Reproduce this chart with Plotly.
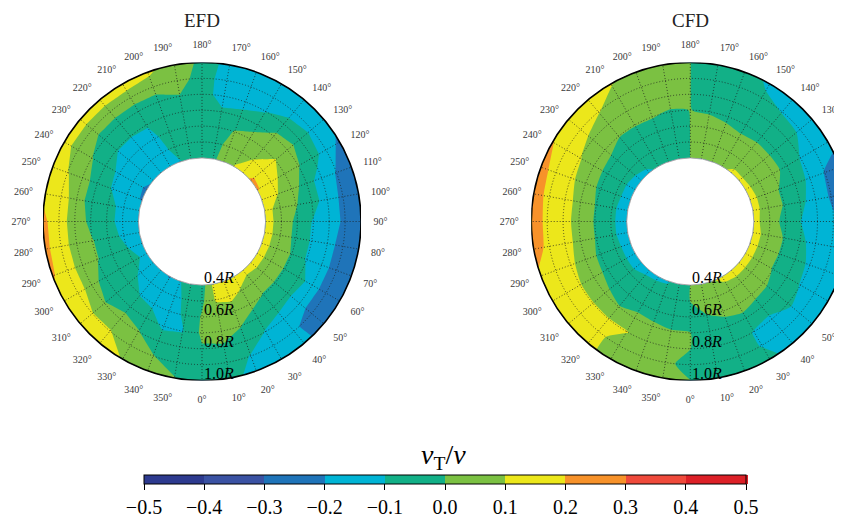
import numpy as np
import plotly.graph_objects as go

# ---------------- data ----------------
ANGLES = list(range(0, 360, 10))            # degrees, 0 at bottom, counter-clockwise
RADII = [0.4, 0.5, 0.6, 0.7, 0.8, 0.9, 1.0]  # r / R
RADIAL_LABEL_VALUES = [0.4, 0.6, 0.8, 1.0]
RADIAL_LABELS = ["0.4", "0.6", "0.8", "1.0"]
LEVEL_TICKS = [-0.5, -0.4, -0.3, -0.2, -0.1, 0.0, 0.1, 0.2, 0.3, 0.4, 0.5]
BAND_COLORS = ["#2d3a8f", "#3a52a3", "#1f74b9", "#00b4d5", "#12b087",
               "#7bc142", "#ece71b", "#f7922a", "#ef4a3b", "#dc2027"]

# v_T / v at each (angle, radius) node, rows follow ANGLES, columns follow RADII
EFD = [
    [-0.05, -0.02, 0.01, 0.02, -0.01, -0.05, -0.05],      # 0
    [0.12, 0.11, 0.05, 0.04, -0.01, -0.05, -0.05],        # 10
    [0.15, 0.13, 0.05, 0.005, -0.05, -0.105, -0.15],      # 20
    [0.15, 0.09, 0.03, -0.05, -0.105, -0.15, -0.15],      # 30
    [0.13, 0.05, -0.005, -0.05, -0.15, -0.18, -0.17],     # 40
    [0.15, 0.05, -0.005, -0.08, -0.15, -0.25, -0.25],     # 50
    [0.15, 0.05, -0.005, -0.05, -0.15, -0.25, -0.25],     # 60
    [0.15, 0.05, -0.005, -0.11, -0.15, -0.25, -0.25],     # 70
    [0.15, 0.05, -0.02, -0.11, -0.15, -0.25, -0.25],      # 80
    [0.15, 0.05, -0.02, -0.11, -0.15, -0.22, -0.25],      # 90
    [0.15, 0.05, 0.005, -0.05, -0.15, -0.22, -0.25],      # 100
    [0.15, 0.105, 0.05, -0.05, -0.15, -0.205, -0.25],     # 110
    [0.21, 0.15, 0.05, 0.005, -0.05, -0.15, -0.22],       # 120
    [0.22, 0.15, 0.105, 0.05, -0.05, -0.12, -0.15],       # 130
    [0.15, 0.105, 0.05, 0.02, -0.05, -0.15, -0.15],       # 140
    [0.105, 0.05, 0.05, -0.05, -0.105, -0.15, -0.15],     # 150
    [0.05, 0.05, 0.005, -0.05, -0.15, -0.15, -0.15],      # 160
    [-0.02, -0.05, -0.05, -0.08, -0.15, -0.15, -0.15],    # 170
    [-0.05, -0.05, -0.05, -0.05, -0.05, -0.05, -0.02],    # 180
    [-0.05, -0.05, -0.05, -0.05, -0.005, 0.05, 0.05],     # 190
    [-0.11, -0.05, -0.05, -0.05, -0.05, 0.05, 0.12],      # 200
    [-0.15, -0.15, -0.12, -0.095, -0.05, 0.05, 0.15],     # 210
    [-0.15, -0.15, -0.15, -0.095, -0.05, 0.05, 0.15],     # 220
    [-0.19, -0.15, -0.15, -0.095, -0.05, 0.05, 0.15],     # 230
    [-0.22, -0.15, -0.12, -0.05, 0.005, 0.05, 0.15],      # 240
    [-0.21, -0.15, -0.105, -0.05, 0.05, 0.105, 0.15],     # 250
    [-0.15, -0.15, -0.05, -0.05, 0.05, 0.15, 0.18],       # 260
    [-0.15, -0.15, -0.05, -0.02, 0.05, 0.15, 0.22],       # 270
    [-0.15, -0.12, -0.05, 0.005, 0.05, 0.15, 0.22],       # 280
    [-0.15, -0.095, -0.05, 0.005, 0.05, 0.15, 0.21],      # 290
    [-0.15, -0.05, -0.05, -0.05, 0.05, 0.15, 0.15],       # 300
    [-0.15, -0.12, -0.05, -0.05, 0.005, 0.105, 0.15],     # 310
    [-0.17, -0.15, -0.105, -0.05, 0.05, 0.105, 0.15],     # 320
    [-0.21, -0.15, -0.12, -0.05, 0.005, 0.05, 0.095],     # 330
    [-0.105, -0.15, -0.15, -0.12, -0.05, 0.005, 0.05],    # 340
    [-0.05, -0.05, -0.08, -0.105, -0.05, -0.05, 0.005],   # 350
]

CFD = [
    [0.001, 0.001, -0.02, 0.001, 0.001, -0.03, 0.001],    # 0
    [0.07, 0.05, -0.005, -0.05, -0.05, -0.05, -0.05],     # 10
    [0.09, 0.05, 0.03, -0.05, -0.05, -0.05, -0.05],       # 20
    [0.13, 0.05, 0.03, -0.02, -0.105, -0.105, -0.07],     # 30
    [0.15, 0.05, 0.03, -0.05, -0.12, -0.15, -0.15],       # 40
    [0.15, 0.05, 0.02, -0.05, -0.08, -0.15, -0.15],       # 50
    [0.15, 0.05, -0.005, -0.05, -0.105, -0.15, -0.15],    # 60
    [0.15, 0.05, -0.005, -0.05, -0.12, -0.15, -0.17],     # 70
    [0.15, 0.05, -0.005, -0.07, -0.15, -0.16, -0.18],     # 80
    [0.14, 0.03, -0.02, -0.105, -0.15, -0.19, -0.22],     # 90
    [0.14, 0.05, -0.005, -0.07, -0.15, -0.21, -0.25],     # 100
    [0.14, 0.05, -0.005, -0.05, -0.12, -0.205, -0.23],    # 110
    [0.13, 0.05, 0.03, -0.03, -0.105, -0.15, -0.18],      # 120
    [0.12, 0.05, 0.03, -0.03, -0.05, -0.12, -0.15],       # 130
    [0.12, 0.05, 0.03, -0.03, -0.05, -0.105, -0.15],      # 140
    [0.08, 0.05, 0.03, -0.05, -0.05, -0.08, -0.12],       # 150
    [0.05, 0.05, 0.03, -0.02, -0.05, -0.05, -0.05],       # 160
    [0.05, 0.05, 0.05, -0.01, -0.05, -0.05, -0.05],       # 170
    [0.001, 0.001, 0.001, 0.001, 0.001, 0.001, 0.001],    # 180
    [-0.05, -0.05, -0.05, -0.01, 0.05, 0.05, 0.05],       # 190
    [-0.07, -0.05, -0.05, 0.005, 0.05, 0.05, 0.07],       # 200
    [-0.08, -0.05, -0.05, 0.005, 0.05, 0.07, 0.105],      # 210
    [-0.12, -0.05, -0.05, 0.005, 0.05, 0.105, 0.15],      # 220
    [-0.15, -0.05, -0.03, 0.03, 0.07, 0.15, 0.17],        # 230
    [-0.15, -0.07, -0.03, 0.05, 0.105, 0.15, 0.205],      # 240
    [-0.15, -0.07, -0.02, 0.05, 0.12, 0.15, 0.25],        # 250
    [-0.15, -0.08, -0.005, 0.05, 0.15, 0.17, 0.25],       # 260
    [-0.15, -0.08, -0.005, 0.05, 0.15, 0.18, 0.25],       # 270
    [-0.15, -0.08, -0.005, 0.05, 0.15, 0.17, 0.25],       # 280
    [-0.15, -0.07, -0.02, 0.05, 0.12, 0.15, 0.18],        # 290
    [-0.15, -0.07, -0.03, 0.05, 0.105, 0.15, 0.15],       # 300
    [-0.15, -0.07, -0.05, 0.03, 0.105, 0.15, 0.15],       # 310
    [-0.13, -0.05, -0.05, 0.005, 0.105, 0.13, 0.13],      # 320
    [-0.12, -0.05, -0.03, 0.02, 0.105, 0.05, 0.05],       # 330
    [-0.11, -0.05, -0.05, 0.02, 0.05, 0.05, 0.05],        # 340
    [-0.05, -0.05, -0.05, 0.005, 0.05, 0.02, 0.05],       # 350
]

# ---------------- layout constants ----------------
OFF = 8                      # page body margin of the html page
W, H = 860, 519 - OFF
SEAM = 100                   # angle at which the carpet grid is opened
PANELS = [  # (name, data, centre x px, centre y px, radius px, contour smoothing)
    ("EFD", EFD, 202.0, 221.5, 159.0, 0.0),
    ("CFD", CFD, 690.3, 221.5, 159.0, 0.6),
]
SERIF = "Liberation Serif, Times New Roman, serif"
GRID = dict(gridcolor="rgba(30,30,30,0.75)", griddash="1px,2px", gridwidth=0.8)


def px(x):
    return (x - OFF) / W


def py(y):
    return 1 - (y - OFF) / H


# discrete colour scale
zmin, zmax = LEVEL_TICKS[0], LEVEL_TICKS[-1]
cscale = []
n = len(BAND_COLORS)
for i, c in enumerate(BAND_COLORS):
    cscale.append([i / n, c])
    cscale.append([(i + 1) / n, c])

# carpet grid opened at SEAM and closed again one turn later
k0 = ANGLES.index(SEAM)
order = list(range(k0, len(ANGLES))) + list(range(0, k0)) + [k0]
b_vals = [ANGLES[i] + (360 if (j >= len(ANGLES) - k0) else 0) for j, i in enumerate(order)]
th = np.deg2rad(np.array(b_vals, dtype=float))
rr = np.array(RADII, dtype=float)
X = np.sin(th)[:, None] * rr[None, :]
Y = -np.cos(th)[:, None] * rr[None, :]

hidden_axis = dict(smoothing=0, showgrid=False, showline=False, startline=False,
                   endline=False, showticklabels="none", minorgridcount=0)

fig = go.Figure()
layout_extra = {}
annotations = []
shapes = []
r_in, r_out = RADII[0], RADII[-1]
for k, (name, data, cx, cy, R, smooth) in enumerate(PANELS):
    sfx = "" if k == 0 else str(k + 1)
    dom_x = [px(cx - R), px(cx + R)]
    dom_y = [py(cy + R), py(cy - R)]
    z = [list(data[i]) for i in order]
    cid = f"carpet{k}"
    fig.add_trace(go.Carpet(
        carpet=cid, a=RADII, b=b_vals, x=X.tolist(), y=Y.tolist(),
        xaxis="x" + sfx, yaxis="y" + sfx,
        aaxis=dict(hidden_axis), baxis=dict(hidden_axis, smoothing=1),
    ))
    fig.add_trace(go.Contourcarpet(
        carpet=cid, a=RADII, b=b_vals, z=z,
        xaxis="x" + sfx, yaxis="y" + sfx,
        colorscale=cscale, zmin=zmin, zmax=zmax, autocontour=False,
        contours=dict(start=zmin, end=zmax, size=0.1, coloring="fill", showlines=False),
        line=dict(width=0, smoothing=smooth),
        showscale=(k == 0),
        colorbar=dict(
            orientation="h", x=px(445), xanchor="center", y=0.0, yanchor="bottom",
            len=602, lenmode="pixels", thickness=9, outlinewidth=1, outlinecolor="black",
            tickvals=LEVEL_TICKS, tickformat=".1f", ticks="outside", ticklen=6,
            tickcolor="black", tickfont=dict(family=SERIF, size=20, color="black"),
            xpad=0, ypad=0,
        ),
    ))
    layout_extra["xaxis" + sfx] = dict(domain=dom_x, range=[-r_out, r_out], visible=False,
                                       anchor="y" + sfx, fixedrange=True)
    layout_extra["yaxis" + sfx] = dict(domain=dom_y, range=[-r_out, r_out], visible=False,
                                       anchor="x" + sfx, fixedrange=True)
    layout_extra["polar" + sfx] = dict(
        domain=dict(x=dom_x, y=dom_y), hole=r_in / r_out, bgcolor="rgba(0,0,0,0)",
        radialaxis=dict(range=[r_in, r_out], tickvals=RADII[1:-1], showticklabels=False,
                        ticks="", showline=False, angle=-90, **GRID),
        angularaxis=dict(rotation=-90, direction="counterclockwise",
                         tickvals=ANGLES, ticktext=[f"{a}°" for a in ANGLES],
                         ticks="outside", ticklen=10, tickcolor="rgba(0,0,0,0)",
                         tickfont=dict(family=SERIF, size=10, color="#3a3a3a"),
                         showline=False, **GRID),
    )
    fig.add_trace(go.Scatterpolar(r=[], theta=[], subplot="polar" + sfx, showlegend=False))
    # outer boundary and hole edge
    shapes.append(dict(type="circle", xref="x" + sfx, yref="y" + sfx,
                       x0=-r_out, x1=r_out, y0=-r_out, y1=r_out,
                       line=dict(color="black", width=1.6), layer="above"))
    shapes.append(dict(type="circle", xref="x" + sfx, yref="y" + sfx,
                       x0=-r_in, x1=r_in, y0=-r_in, y1=r_in,
                       line=dict(color="#a8a8a8", width=1), layer="above"))
    annotations.append(dict(xref="paper", yref="paper", x=px(cx), y=py(20),
                            xanchor="center", yanchor="middle",
                            text=name, showarrow=False,
                            font=dict(family=SERIF, size=19, color="#222")))
    for rv, lab in zip(RADIAL_LABEL_VALUES, RADIAL_LABELS):
        annotations.append(dict(xref="x" + sfx, yref="y" + sfx, x=0, y=-rv,
                                text=f"{lab}<i>R</i>", showarrow=False,
                                xanchor="left", yanchor="bottom", yshift=-3,
                                font=dict(family=SERIF, size=16, color="black")))

annotations.append(dict(xref="paper", yref="paper", x=px(443), y=py(456),
                        xanchor="center", yanchor="middle", showarrow=False,
                        text="<i>v</i><sub>T</sub>/<i>v</i>",
                        font=dict(family=SERIF, size=28, color="black")))

fig.update_layout(
    width=W, height=H, margin=dict(l=0, r=0, t=0, b=0),
    paper_bgcolor="white", plot_bgcolor="rgba(0,0,0,0)",
    showlegend=False, annotations=annotations, shapes=shapes, **layout_extra,
)
fig.write_html("out.html")
